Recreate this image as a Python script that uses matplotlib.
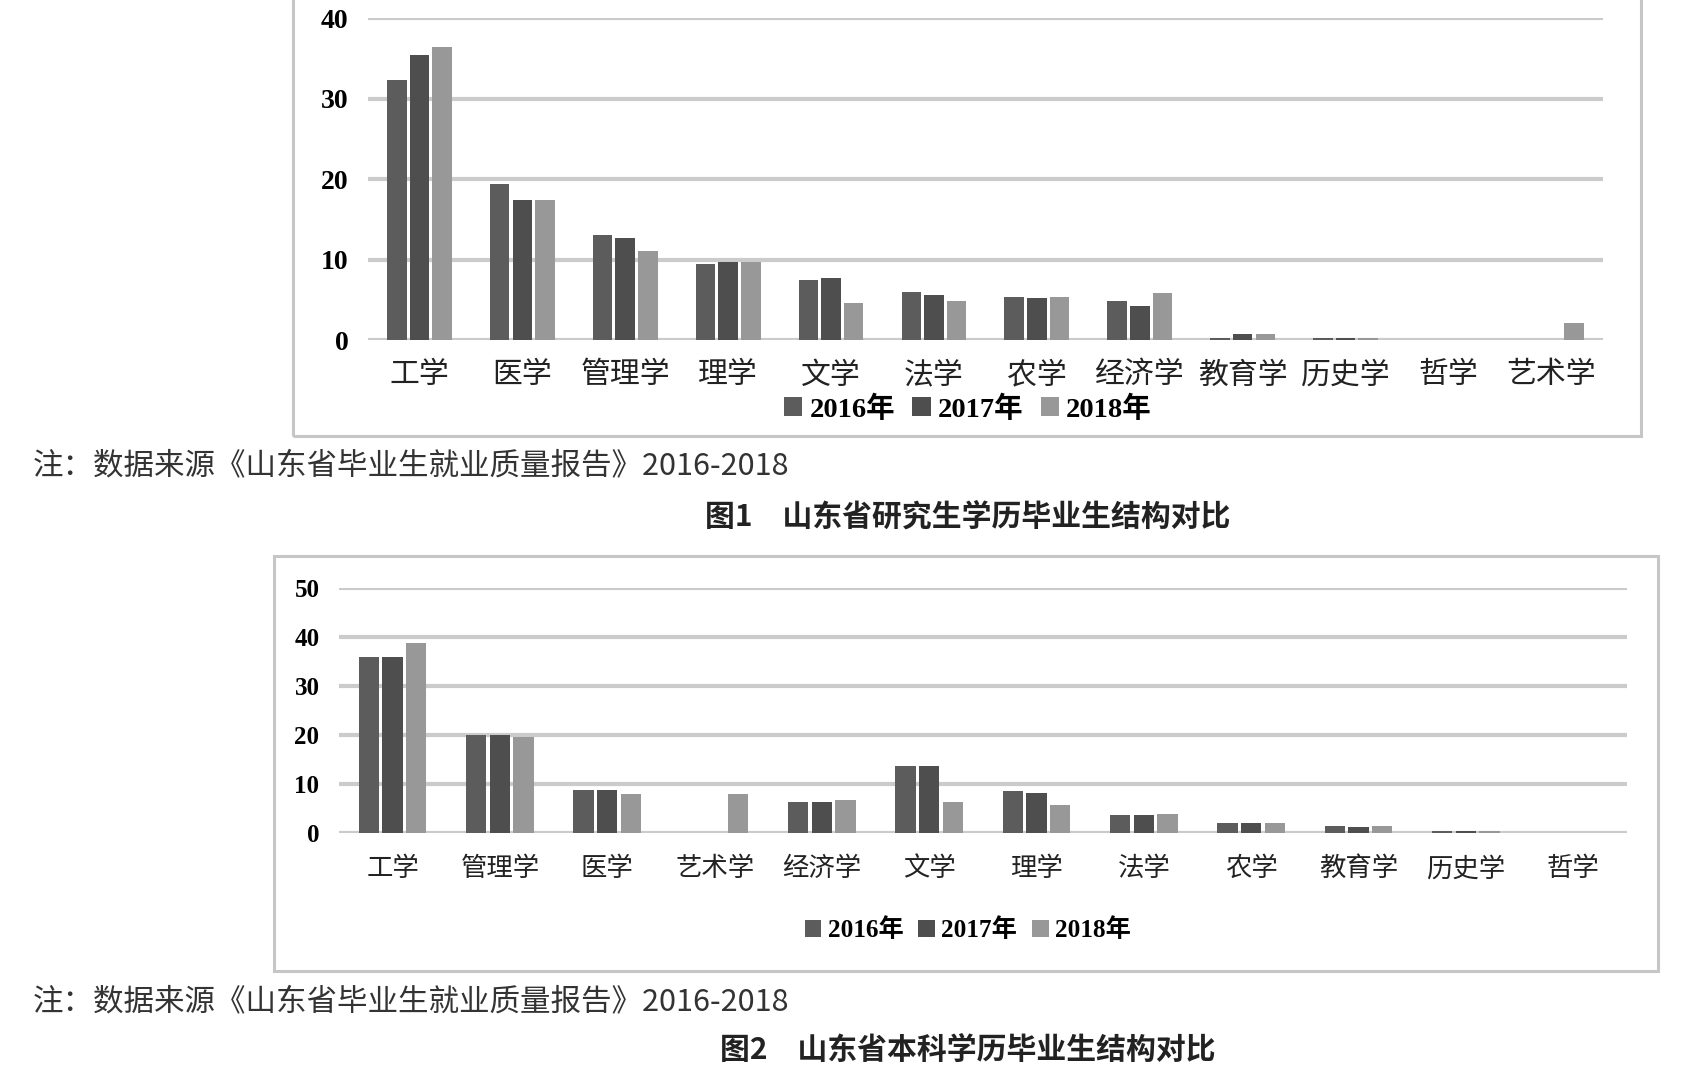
import numpy as np
import matplotlib.pyplot as plt
from matplotlib.patches import Rectangle

# 图1 研究生
cats1 = ['工学', '医学', '管理学', '理学', '文学', '法学', '农学', '经济学', '教育学', '历史学', '哲学', '艺术学']
g2016 = [32.3, 19.4, 13.1, 9.5, 7.5, 6.0, 5.4, 4.8, 0.3, 0.3, 0.0, 0.0]
g2017 = [35.4, 17.4, 12.7, 9.7, 7.7, 5.6, 5.2, 4.2, 0.75, 0.3, 0.0, 0.0]
g2018 = [36.5, 17.4, 11.1, 9.7, 4.6, 4.9, 5.4, 5.8, 0.75, 0.25, 0.0, 2.1]

# 图2 本科
cats2 = ['工学', '管理学', '医学', '艺术学', '经济学', '文学', '理学', '法学', '农学', '教育学', '历史学', '哲学']
u2016 = [36.0, 19.9, 8.8, 0.0, 6.3, 13.7, 8.5, 3.6, 2.0, 1.5, 0.5, 0.0]
u2017 = [36.0, 19.9, 8.8, 0.0, 6.3, 13.7, 8.2, 3.6, 2.0, 1.2, 0.5, 0.0]
u2018 = [38.8, 19.5, 7.9, 7.9, 6.7, 6.3, 5.7, 3.9, 2.0, 1.5, 0.4, 0.0]

years = ['2016年', '2017年', '2018年']
colors = ['#5c5c5c', '#4e4e4e', '#989898']
note = '注：数据来源《山东省毕业生就业质量报告》2016-2018'

CJK = 'Noto Sans CJK SC'
SERIF = ['Liberation Serif', CJK]

fig = plt.figure(figsize=(16.98, 10.74), dpi=100)
fig.patch.set_facecolor('white')

# frames around the charts
fig.add_artist(Rectangle((0.1726, 0.594), 0.9664 - 0.1726, 0.45, transform=fig.transFigure,
                         fill=False, edgecolor='#c6c6c6', linewidth=2.2))
fig.add_artist(Rectangle((0.1614, 0.0959), 0.9764 - 0.1614, 0.4823 - 0.0959, transform=fig.transFigure,
                         fill=False, edgecolor='#c6c6c6', linewidth=2.2))


def draw(ax, cats, series, ymax, lab_size, lab_pad, tick_size, legend_y, legend_size):
    x = np.arange(len(cats))
    w = 0.19
    for i, (vals, name) in enumerate(zip(series, years)):
        ax.bar(x + (i - 1) * 0.22, vals, width=w, color=colors[i], label=name, zorder=3)
    ax.set_xlim(-0.5, len(cats) - 0.5)
    ax.set_ylim(0, ymax)
    ax.set_yticks(np.arange(0, ymax + 1, 10))
    ax.yaxis.grid(True, color='#cbcbcb', linewidth=3, zorder=0)
    ax.set_axisbelow(True)
    for s in ax.spines.values():
        s.set_visible(False)
    ax.tick_params(length=0)
    ax.set_xticks(x)
    ax.set_xticklabels(cats, fontsize=lab_size, family=CJK, color='#222222')
    ax.tick_params(axis='x', pad=lab_pad)
    ax.tick_params(axis='y', pad=14)
    for t in ax.get_yticklabels():
        t.set_fontfamily(SERIF)
        t.set_fontweight('bold')
        t.set_fontsize(tick_size)
    ax.legend(loc='center', bbox_to_anchor=(0.57, legend_y), bbox_transform=fig.transFigure,
              ncol=3, frameon=False, handlelength=0.65, handleheight=0.65, handletextpad=0.25,
              columnspacing=0.6, borderpad=0.1,
              prop={'family': SERIF, 'weight': 'bold', 'size': legend_size})


ax1 = fig.add_axes([0.2167, 0.6834, 0.7273, 0.2995])
draw(ax1, cats1, [g2016, g2017, g2018], 40, 21.5, 14, 20, 0.619, 20.5)

ax2 = fig.add_axes([0.1996, 0.2244, 0.7585, 0.2281])
draw(ax2, cats2, [u2016, u2017, u2018], 50, 19, 16, 18, 0.134, 18.2)

fig.text(0.019, 1 - 466 / 1074, note, fontsize=22, family=CJK, color='#333333', va='center')
fig.text(0.57, 1 - 517 / 1074, '图1　山东省研究生学历毕业生结构对比', fontsize=21.5, family=CJK,
         weight='bold', color='#222222', ha='center', va='center')
fig.text(0.019, 1 - 1002 / 1074, note, fontsize=22, family=CJK, color='#333333', va='center')
fig.text(0.57, 1 - 1050 / 1074, '图2　山东省本科学历毕业生结构对比', fontsize=21.5, family=CJK,
         weight='bold', color='#222222', ha='center', va='center')

fig.savefig('out.png', dpi=100, facecolor='white')
